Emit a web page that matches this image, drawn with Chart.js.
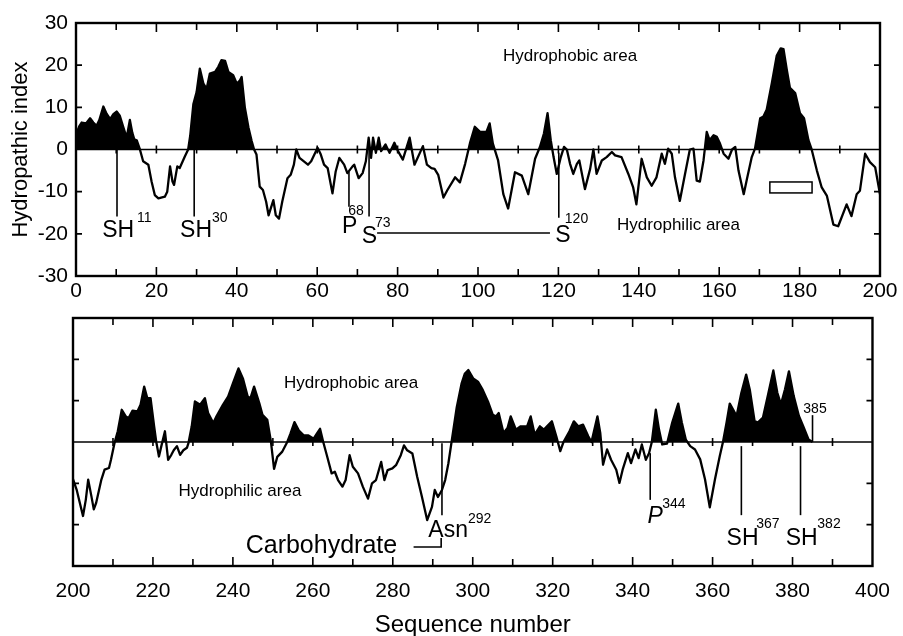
<!DOCTYPE html>
<html><head><meta charset="utf-8">
<script src="https://cdn.jsdelivr.net/npm/chart.js@4.4.1/dist/chart.umd.min.js"></script>
<style>
html,body{margin:0;padding:0;background:#fff;}
#wrap{position:relative;width:903px;height:636px;background:#fff;}
canvas{position:absolute;left:0;top:0;}
</style></head><body>
<div id="wrap"><canvas id="c1" width="903" height="636"></canvas><canvas id="c2" width="903" height="636"></canvas></div>
<script>
// ---------- data: residues 0-200 ----------
const topX = [0,0.8,1.4,2.5,3.5,4.3,5.1,5.8,6.8,7.6,8.5,9.3,10.1,10.9,11.8,12.6,13.4,14.0,14.5,15.1,15.9,16.7,18,18.8,19.6,20.5,22.1,22.7,23.4,24.0,24.4,25.2,25.8,27.1,27.9,28.4,29.2,30,30.8,31.7,32.5,33.3,34.6,35.4,36.2,37.1,37.9,39.1,40,40.8,41.2,42.0,42.9,43.7,44.3,44.9,45.7,46.5,47.3,47.9,49.1,49.7,50.5,51.3,52.6,53.4,54.2,54.8,55.6,57.7,58.5,60.1,60.9,61.7,62.6,63.8,64.6,65.5,66.7,67.5,68.8,69.2,70.3,71.3,72.1,72.8,73.4,73.9,74.6,75.3,75.9,77,78,79.2,80.1,81.3,83,84.2,86.3,87.3,88.4,89.2,90.1,91.4,92.4,94.3,95.5,96.8,98,99.2,100.5,102.1,102.9,103.7,105,106.3,107.5,109.2,110.9,112.5,114.2,115.4,116.4,117.3,118.1,118.8,119.6,120.6,121.4,122.1,122.9,123.7,124.6,125.2,126.6,127.9,128.7,129.5,130.8,132,133.3,134.1,135.7,137.4,138.6,139.4,140.7,142,143.2,144.4,145.7,146.5,147.3,148.2,149,150.2,151.5,152.7,153.6,154.4,155.2,156.1,156.9,157.6,158.6,159.4,160.2,161.1,162.3,163.2,164,164.8,166.1,166.9,168.1,168.9,170.2,171,171.8,173.1,174.3,175.3,176,176.8,177.6,178.9,180.1,181.1,182.2,183,184.3,185.5,186.8,188.4,189.6,191.7,192.9,194.2,195,196.3,197.5,198.8,200];
const topY = [3.5,5.5,6.4,6.2,7.4,6.4,5.6,7,10.2,8.5,7.2,8.4,9.0,8.0,5.2,2.8,7.0,4,2.4,2.2,0,-2.8,-3.6,-7.6,-10.8,-11.6,-11.2,-10,-4,-7.6,-8.4,-4,-4.4,-1.6,0,3.2,10.8,13.6,19.2,15.6,14.4,18,18.4,19.6,21.2,21.0,18.4,17.6,15.6,16.4,17.2,10,5.2,2,0,-1.2,-8.8,-9.6,-12.4,-15.6,-12,-15.6,-16.4,-12.4,-6.8,-6,-3.6,0,-2,-3.6,-2.8,0.4,-1.2,-3.6,-4.4,-10.4,-5.2,-2,-3.6,-5.6,-4,-3.6,-6.8,-5.6,-2.8,2.8,-2,2.8,-0.8,2.8,-0.4,1.2,-0.8,1.6,-0.4,-2.4,2.8,-3.6,0.8,-3.6,-4.4,-4.6,-6,-11.4,-9.6,-6.6,-7.8,-3.4,1.5,5.4,4.2,4.2,6.2,1.4,-2.6,-10.6,-14,-5.4,-6.2,-10.6,-2.2,0.6,3.8,8.6,2.2,-1.8,-5.8,-1.8,0.6,0,-3.4,-5.8,-3.4,-2.6,-9.4,-4.6,0,-5.8,-2.6,-1.8,-0.6,-1.4,-1.8,-5.8,-9,-13,-2.2,-6.6,-8.6,-6.6,-1,-3.4,0.2,-1,-6.6,-12.2,-5.8,0,0.2,-7.4,-7.6,-2.6,4.2,2.2,3.4,3,1.4,-1,-2.2,0,0.6,-5,-10.6,-7,-1.8,0.2,7.4,7.8,9.4,15.8,22.2,24,23.8,19,14.6,13.4,8.6,7.4,2.2,0,-5,-9,-11,-17.8,-18.2,-13,-15.8,-10.6,-9.8,-1,-3,-4.2,-10.6];

// ---------- data: residues 200-385 ----------
const botX = [200,200.9,201.7,202.5,203.2,203.8,204.6,205.2,205.8,207.1,207.9,209,209.5,210.4,211.2,212.2,213.2,213.9,214.9,216.1,216.9,217.8,218.6,219.4,220.3,220.8,221.5,222.1,223,223.8,224.6,225.2,226,226.8,227.6,228.5,228.9,229.7,230.5,231.8,233,233.8,235.1,235.9,237.5,238.8,240,241.4,242.5,243.7,244.4,245.3,246.6,247.4,248.6,249.5,250.3,251.1,252.3,253.6,254.4,255.4,256.5,257.7,258.9,260.2,261,261.8,262.6,263.5,264.7,265.5,266.3,267.4,268.2,269.2,270,271.3,272.5,273.8,274.8,275.8,277.1,277.9,278.7,279.9,280.8,282,282.8,283.6,284.9,286.1,287.3,288.6,289.8,290.5,291.3,292.3,293.1,293.9,294.7,296,297.2,298,298.9,300.1,301.3,302.5,303.8,305,305.8,306.5,307.7,308.7,309.5,310.8,312,313.6,314.5,315.5,316.8,317.8,319.8,320.9,321.9,322.7,324.2,325.3,326.4,327.6,328.9,329.7,331.2,331.9,332.6,333.6,334.6,335.9,336.7,337.5,338.8,339.6,340.7,341.5,342.3,343.3,344.1,344.8,345.8,346.6,347.4,348.6,349.9,351.4,352.3,353.3,354.4,355.6,356.9,358.1,359.3,360.6,361.8,362.6,363.5,364.3,365.1,366,367.2,368.4,369.3,370.5,371.3,372.6,373.8,375.2,376.2,377.1,378.1,379.1,380.3,381.6,382.8,384,385];
const botY = [-9,-11.5,-14.7,-17.9,-14,-9.1,-13.1,-16.3,-14.7,-9.1,-6.7,-6.3,-4.3,-0.2,2.6,7.8,6.2,5.8,7.6,7.4,9,13.4,10.6,10.6,3.8,0.2,-3.5,-1,2.6,-4.3,-3.1,-2,-1,-3.1,-2,-1.4,-0.2,3.8,9.8,9,10.6,7,4.6,6.2,9,11,14.2,17.8,15.4,11,10.6,13.4,9.4,6.6,5.4,0.2,-6.5,-3.6,-2.4,0,2,4.8,2.8,1.6,1.6,0.8,2,3.2,0,-3.2,-7.6,-7.2,-9.2,-10.8,-9.2,-3.2,-6,-7.6,-10.8,-13.7,-10,-9.2,-4.8,-9.2,-6.8,-6.4,-5.6,-3.2,-0.8,-2,-2.8,-8.4,-13.3,-18.9,-15.7,-11.6,-13.3,-11.6,-9.2,-5.2,0,8.4,14.1,16.5,17.4,15.4,14.6,12.6,9.8,6.6,6.2,7,2.2,3.4,6.2,3,3.8,3.8,6.2,1.8,3.8,3,5,1.4,-2.2,0,2.6,5,3.8,4.2,1.4,0,6.2,2.2,-5.5,-1.8,-4.3,-6.7,-9.9,-6.7,-2.7,-5.1,-1.8,-3.9,-0.6,-4.3,-2.7,0,7.8,3,-0.6,-0.4,4.7,9.3,4.7,0.6,-1,-1.8,-4.2,-9,-15.8,-9,-3.4,0,4.7,9.3,7.9,6.3,11.9,16.3,12.7,5.1,4.7,5.9,11.1,17.3,11.9,9.1,12.7,17.1,11.1,6.3,3.5,0.6,0];

// axis ranges / ticks
const yTicks = [-30,-20,-10,0,10,20,30];
const topRange = [0,200];
const botRange = [200,400];

// annotations (data coordinates)
const topMarkX  = [10.2, 29.4, 67.9, 72.9, 120.1];
const topMarkY1 = [0, 0, -5.3, 1.5, -0.8];
const topMarkY2 = [-15.9, -15.9, -13.6, -15.9, -16.2];
const topLabText = ['SH','SH','P','S','S'];
const topLabX = [6.5, 25.9, 66.2, 71.1, 119.2];
const topLabY = [-20.75, -20.75, -19.8, -22.2, -21.9];
const topSupText = ['11','30','68','73','120'];
const topSupX = [15.2, 33.8, 67.7, 74.4, 121.6];
const topSupY = [-17.2, -17.2, -15.5, -18.4, -17.4];

const botMarkX  = [292.3, 344.4, 367.2, 382, 385];
const botMarkY1 = [-0.3, -2.7, -1, -1, 6.5];
const botMarkY2 = [-17.7, -14, -17.7, -17.7, 0];
const botLabText = ['Asn','P','SH','SH'];
const botLabX = [288.9, 343.7, 363.5, 378.3];
const botLabY = [-23, -19.6, -24.9, -24.9];
const botSupText = ['292','344','367','382','385'];
const botSupX = [298.8, 347.4, 370.9, 386.2, 382.7];
const botSupY = [-19.6, -16, -20.8, -20.8, 7.0];

const FONT = '"Liberation Sans", Arial, Helvetica, sans-serif';

function framePlugin(cfg){
  return {
    id:'frame'+cfg.id,
    afterDatasetsDraw(chart){
      const {ctx, chartArea:{left,right,top,bottom}, scales:{x,y}} = chart;
      const X = v => x.getPixelForValue(v), Y = v => y.getPixelForValue(v);
      ctx.save();
      ctx.strokeStyle='#000'; ctx.fillStyle='#000';
      ctx.lineWidth=1.6;
      ctx.beginPath(); ctx.moveTo(left,Y(0)); ctx.lineTo(right,Y(0)); ctx.stroke();
      ctx.lineWidth=2.4;
      ctx.strokeRect(left,top,right-left,bottom-top);
      ctx.lineWidth=1.6;
      for(let v=x.min+10; v<x.max; v+=10){
        const px=X(v), L = (v%20===0)?9:7;
        ctx.beginPath();
        ctx.moveTo(px,top); ctx.lineTo(px,top+L);
        ctx.moveTo(px,bottom); ctx.lineTo(px,bottom-L);
        ctx.moveTo(px,Y(0)-4); ctx.lineTo(px,Y(0)+4);
        ctx.stroke();
      }
      for(const v of [-20,-10,10,20]){
        const py=Y(v);
        ctx.beginPath();
        ctx.moveTo(left,py); ctx.lineTo(left+6,py);
        ctx.moveTo(right,py); ctx.lineTo(right-6,py);
        ctx.stroke();
      }
      ctx.lineWidth=1.6;
      cfg.markX.forEach((m,i)=>{
        ctx.beginPath(); ctx.moveTo(X(m),Y(cfg.markY1[i])); ctx.lineTo(X(m),Y(cfg.markY2[i])); ctx.stroke();
      });
      ctx.textBaseline='alphabetic'; ctx.textAlign='left';
      cfg.labText.forEach((t,i)=>{
        ctx.font = (cfg.italic && cfg.italic[i] ? 'italic ' : '') + '23px '+FONT;
        ctx.fillText(t, X(cfg.labX[i]), Y(cfg.labY[i]));
      });
      ctx.font='14px '+FONT;
      cfg.supText.forEach((t,i)=>{ ctx.fillText(t, X(cfg.supX[i]), Y(cfg.supY[i])); });
      if(cfg.extra) cfg.extra(ctx,X,Y);
      ctx.restore();
    }
  };
}

function lineDataset(xs,ys){
  return {
    data: xs.map((v,i)=>({x:v,y:ys[i]})),
    borderColor:'#000', borderWidth:2.3, pointRadius:0,
    tension:0, borderJoinStyle:'round',
    fill:{target:'origin', above:'#000', below:'rgba(0,0,0,0)'}
  };
}

const tickFont = {family:FONT, size:21};

new Chart(document.getElementById('c1'),{
  type:'line',
  data:{datasets:[lineDataset(topX,topY)]},
  options:{
    responsive:false, animation:false, events:[],
    layout:{padding:{left:0,right:23,top:23,bottom:330}},
    plugins:{legend:{display:false},tooltip:{enabled:false}},
    scales:{
      x:{type:'linear',min:topRange[0],max:topRange[1],
         ticks:{stepSize:20,color:'#000',font:tickFont,padding:3,maxRotation:0},
         grid:{display:false,drawTicks:false},border:{display:false},
         afterFit(s){s.height=30;}},
      y:{min:-30,max:30,
         afterBuildTicks(s){s.ticks=yTicks.map(v=>({value:v}));},
         ticks:{color:'#000',font:tickFont,padding:8},
         grid:{display:false,drawTicks:false},border:{display:false},
         title:{display:true,text:'Hydropathic index',color:'#000',font:{family:FONT,size:22},padding:{top:8,bottom:0}},
         afterFit(s){s.width=76;}}
    }
  },
  plugins:[framePlugin({id:1,markX:topMarkX,markY1:topMarkY1,markY2:topMarkY2,
    labText:topLabText,labX:topLabX,labY:topLabY,supText:topSupText,supX:topSupX,supY:topSupY,
    extra(ctx,X,Y){
      ctx.font='17px '+FONT; ctx.textBaseline='middle';
      ctx.fillText('Hydrophobic area',X(106.2),Y(22.2));
      ctx.fillText('Hydrophilic area',X(134.6),Y(-17.9));
      ctx.textBaseline='alphabetic';
      ctx.lineWidth=1.5;
      ctx.beginPath(); ctx.moveTo(X(74.9),Y(-19.8)); ctx.lineTo(X(117.9),Y(-19.8)); ctx.stroke();
      ctx.strokeRect(X(172.6),Y(-7.7),X(183.1)-X(172.6),Y(-10.3)-Y(-7.7));
    }})]
});

new Chart(document.getElementById('c2'),{
  type:'line',
  data:{datasets:[lineDataset(botX,botY)]},
  options:{
    responsive:false, animation:false, events:[],
    layout:{padding:{left:73,right:20,top:318,bottom:0}},
    plugins:{legend:{display:false},tooltip:{enabled:false}},
    scales:{
      x:{type:'linear',min:botRange[0],max:botRange[1],
         ticks:{stepSize:20,color:'#000',font:tickFont,padding:13,maxRotation:0},
         grid:{display:false,drawTicks:false},border:{display:false},
         title:{display:true,text:'Sequence number',color:'#000',font:{family:FONT,size:24,lineHeight:0.9},padding:{top:0,bottom:0}},
         afterFit(s){s.height=70;}},
      y:{display:false,min:-30,max:30}
    }
  },
  plugins:[framePlugin({id:2,markX:botMarkX,markY1:botMarkY1,markY2:botMarkY2,
    labText:botLabText,labX:botLabX,labY:botLabY,italic:[false,true,false,false],
    supText:botSupText,supX:botSupX,supY:botSupY,
    extra(ctx,X,Y){
      ctx.font='17px '+FONT; ctx.textBaseline='middle';
      ctx.fillText('Hydrophobic area',X(252.8),Y(14.3));
      ctx.fillText('Hydrophilic area',X(226.4),Y(-11.9));
      ctx.textBaseline='alphabetic';
      ctx.font='25px '+FONT;
      ctx.fillText('Carbohydrate',X(243.2),Y(-26.9));
      ctx.lineWidth=1.6;
      ctx.beginPath(); ctx.moveTo(X(285.2),Y(-25.4)); ctx.lineTo(X(292.1),Y(-25.4)); ctx.lineTo(X(292.1),Y(-23.2)); ctx.stroke();
    }})]
});
</script>
</body></html>
